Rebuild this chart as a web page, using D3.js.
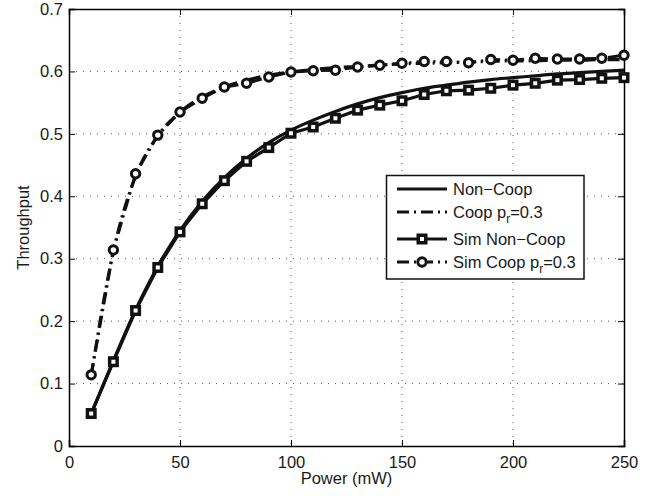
<!DOCTYPE html>
<html>
<head>
<meta charset="utf-8">
<script src="https://cdn.jsdelivr.net/npm/d3@7"></script>
<style>
  body { margin: 0; background: #fff; }
  svg { font-family: "Liberation Sans", Arial, sans-serif; }
</style>
</head>
<body>
<div id="chart"></div>
<script>
// x positions (mW)
var power = [10, 20, 30, 40, 50, 60, 70, 80, 90, 100, 110, 120, 130, 140, 150, 160, 170, 180, 190, 200, 210, 220, 230, 240, 250];

// analytic curves
var nonCoop = [0.052, 0.137, 0.218, 0.288, 0.345, 0.392, 0.430, 0.461, 0.486, 0.506, 0.522, 0.536, 0.548, 0.558, 0.566, 0.573, 0.578, 0.583, 0.587, 0.590, 0.593, 0.596, 0.598, 0.600, 0.602];
var coop = [0.113, 0.312, 0.432, 0.497, 0.535, 0.559, 0.575, 0.586, 0.594, 0.599, 0.603, 0.606, 0.608, 0.610, 0.612, 0.613, 0.614, 0.615, 0.616, 0.617, 0.617, 0.618, 0.618, 0.619, 0.619];

// simulated points
var simNonCoop = [0.052, 0.135, 0.217, 0.286, 0.343, 0.388, 0.425, 0.456, 0.478, 0.501, 0.511, 0.525, 0.538, 0.546, 0.553, 0.563, 0.569, 0.570, 0.573, 0.578, 0.581, 0.586, 0.587, 0.589, 0.590];
var simCoop = [0.114, 0.314, 0.436, 0.498, 0.535, 0.557, 0.575, 0.581, 0.591, 0.599, 0.601, 0.602, 0.607, 0.610, 0.613, 0.616, 0.616, 0.614, 0.619, 0.618, 0.621, 0.620, 0.620, 0.621, 0.626];

var xTicks = [0, 50, 100, 150, 200, 250];
var yTicks = [0, 0.1, 0.2, 0.3, 0.4, 0.5, 0.6, 0.7];

function init() {
    var w = 663;
    var h = 496;
    var left = 69, right = 624, top = 9, bottom = 446;

    var svg = d3.select("#chart")
        .append("svg")
        .attr("width", w)
        .attr("height", h);

    var x = d3.scaleLinear().domain([0, 250]).range([left, right]);
    var y = d3.scaleLinear().domain([0, 0.7]).range([bottom, top]);

    // grid
    svg.append("g").selectAll("line")
        .data(xTicks.slice(1, -1))
        .enter().append("line")
        .attr("x1", function (d) { return x(d); })
        .attr("x2", function (d) { return x(d); })
        .attr("y1", top).attr("y2", bottom)
        .attr("stroke", "#555").attr("stroke-width", 1)
        .attr("stroke-dasharray", "1,6");
    svg.append("g").selectAll("line")
        .data(yTicks.slice(1, -1))
        .enter().append("line")
        .attr("y1", function (d) { return y(d); })
        .attr("y2", function (d) { return y(d); })
        .attr("x1", left).attr("x2", right)
        .attr("stroke", "#555").attr("stroke-width", 1)
        .attr("stroke-dasharray", "1,6");

    // axes (ticks inward on all sides)
    svg.append("g")
        .attr("transform", "translate(0," + bottom + ")")
        .call(d3.axisBottom(x).tickValues(xTicks).tickSize(-6).tickPadding(10).tickFormat(d3.format("d")));
    svg.append("g")
        .attr("transform", "translate(0," + top + ")")
        .call(d3.axisTop(x).tickValues(xTicks).tickSize(-6).tickFormat(""));
    svg.append("g")
        .attr("transform", "translate(" + left + ",0)")
        .call(d3.axisLeft(y).tickValues(yTicks).tickSize(-6).tickPadding(6).tickFormat(function (d) { return d === 0 ? "0" : d3.format(".1f")(d); }));
    svg.append("g")
        .attr("transform", "translate(" + right + ",0)")
        .call(d3.axisRight(y).tickValues(yTicks).tickSize(-6).tickFormat(""));

    svg.selectAll(".domain").attr("stroke", "#000").attr("stroke-width", 1.5);
    svg.selectAll(".tick line").attr("stroke", "#000");
    svg.selectAll(".tick text").attr("font-size", "16.5px").attr("fill", "#1a1a1a")
        .attr("font-family", "Liberation Sans, Arial, sans-serif");

    // axis labels
    svg.append("text")
        .attr("x", (left + right) / 2).attr("y", 484)
        .attr("text-anchor", "middle").attr("font-size", "16.5px").attr("fill", "#1a1a1a")
        .text("Power (mW)");
    svg.append("text")
        .attr("transform", "translate(29," + ((top + bottom) / 2) + ") rotate(-90)")
        .attr("text-anchor", "middle").attr("font-size", "16.5px").attr("fill", "#1a1a1a")
        .text("Throughput");

    var line = function (vals) {
        return d3.line()
            .x(function (d, i) { return x(power[i]); })
            .y(function (d) { return y(d); })
            .curve(d3.curveMonotoneX)(vals);
    };
    var straight = function (vals) {
        return d3.line()
            .x(function (d, i) { return x(power[i]); })
            .y(function (d) { return y(d); })(vals);
    };

    var dashDot = "12,5,2,5";

    // analytic
    svg.append("path").attr("d", line(nonCoop))
        .attr("fill", "none").attr("stroke", "#111").attr("stroke-width", 3.2);
    svg.append("path").attr("d", line(coop))
        .attr("fill", "none").attr("stroke", "#111").attr("stroke-width", 3.2)
        .attr("stroke-dasharray", dashDot);

    // simulated
    svg.append("path").attr("d", straight(simNonCoop))
        .attr("fill", "none").attr("stroke", "#111").attr("stroke-width", 3.2);
    svg.append("path").attr("d", straight(simCoop))
        .attr("fill", "none").attr("stroke", "#111").attr("stroke-width", 3)
        .attr("stroke-dasharray", dashDot);

    svg.append("g").selectAll("rect")
        .data(simNonCoop)
        .enter().append("rect")
        .attr("x", function (d, i) { return x(power[i]) - 3.75; })
        .attr("y", function (d) { return y(d) - 3.75; })
        .attr("width", 7.5).attr("height", 7.5)
        .attr("fill", "#fff").attr("stroke", "#111").attr("stroke-width", 3.5);

    svg.append("g").selectAll("circle")
        .data(simCoop)
        .enter().append("circle")
        .attr("cx", function (d, i) { return x(power[i]); })
        .attr("cy", function (d) { return y(d); })
        .attr("r", 4.2)
        .attr("fill", "#fff").attr("stroke", "#111").attr("stroke-width", 3);

    // legend
    var lg = svg.append("g");
    lg.append("rect")
        .attr("x", 386.5).attr("y", 175.5).attr("width", 197.5).attr("height", 103.5)
        .attr("fill", "#fff").attr("stroke", "#111").attr("stroke-width", 1.5);

    var entries = [
        { label: "Non\u2212Coop", sub: null, dash: null, marker: null, cy: 189 },
        { label: "Coop p", sub: "r", after: "=0.3", dash: dashDot, marker: null, cy: 212 },
        { label: "Sim Non\u2212Coop", sub: null, dash: null, marker: "square", cy: 239 },
        { label: "Sim Coop p", sub: "r", after: "=0.3", dash: dashDot, marker: "circle", cy: 262 }
    ];
    entries.forEach(function (e) {
        lg.append("line")
            .attr("x1", 397).attr("x2", 447).attr("y1", e.cy).attr("y2", e.cy)
            .attr("stroke", "#111").attr("stroke-width", 3.2)
            .attr("stroke-dasharray", e.dash);
        if (e.marker === "square") {
            lg.append("rect").attr("x", 418.25).attr("y", e.cy - 3.75).attr("width", 7.5).attr("height", 7.5)
                .attr("fill", "#fff").attr("stroke", "#111").attr("stroke-width", 3.5);
        } else if (e.marker === "circle") {
            lg.append("circle").attr("cx", 422).attr("cy", e.cy).attr("r", 4.2)
                .attr("fill", "#fff").attr("stroke", "#111").attr("stroke-width", 3);
        }
        var t = lg.append("text")
            .attr("x", 453).attr("y", e.cy + 6)
            .attr("font-size", "16.5px").attr("fill", "#1a1a1a");
        t.append("tspan").text(e.label);
        if (e.sub) {
            t.append("tspan").attr("dy", 5).attr("font-size", "12px").text(e.sub);
            t.append("tspan").attr("dy", -5).text(e.after);
        }
    });
}

window.onload = init;
</script>
</body>
</html>
